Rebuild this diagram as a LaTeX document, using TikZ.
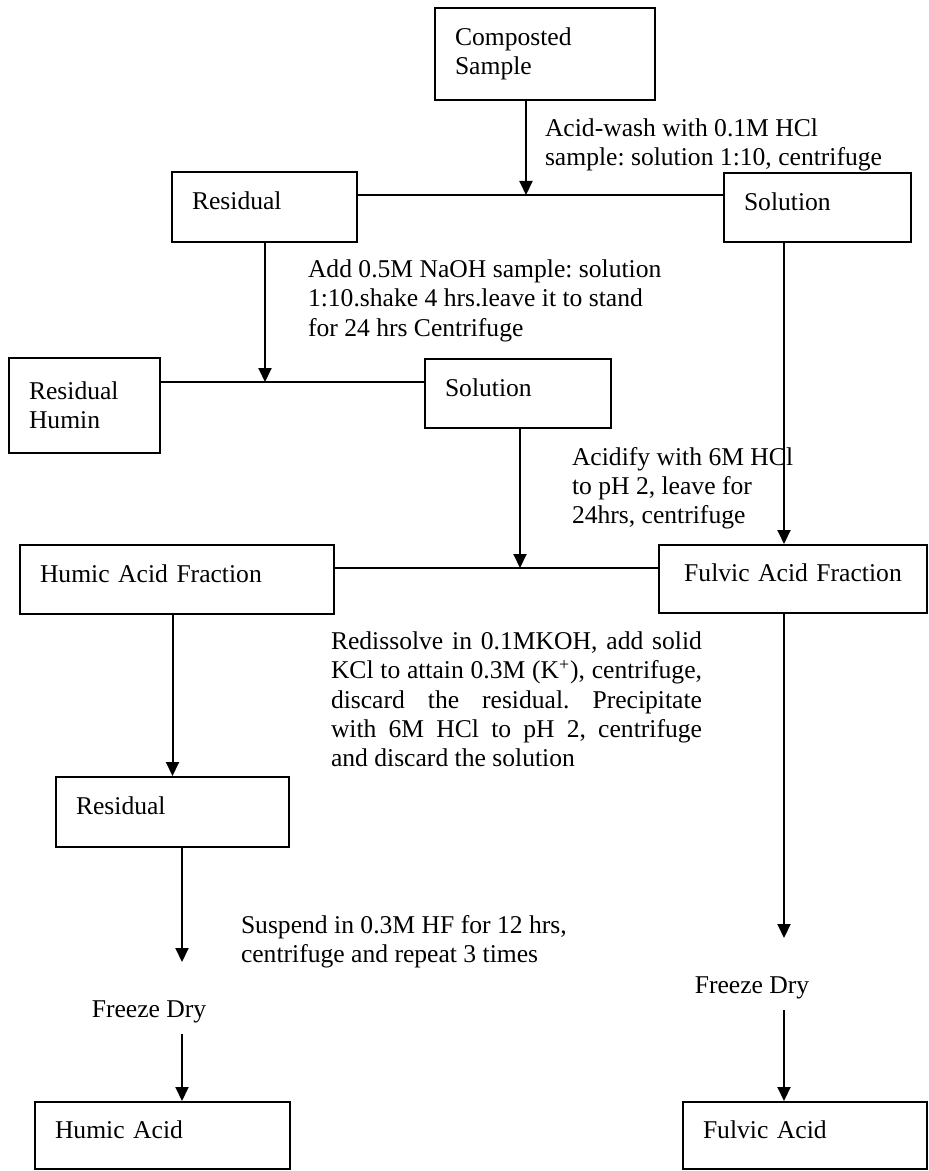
\documentclass[tikz,border=0pt]{standalone}
\usepackage{fontspec}
\setmainfont{Liberation Serif}
\usetikzlibrary{arrows.meta}
\frenchspacing

\begin{document}
\begin{tikzpicture}[x=0.5pt,y=-0.5pt,
		font=\fontsize{12.8}{14.6}\selectfont,
		line width=1pt,
		>={Triangle[length=7pt,width=6.5pt]},
		box/.style 2 args={draw,rectangle,inner xsep=10pt,text width=#1,minimum height=#2,align=left,text depth=6pt},
		note/.style={anchor=north west,inner sep=0pt,align=left},
		dry/.style={inner sep=5pt}]
	\useasboundingbox (0,0) rectangle (928,1171);
	\node [box={90pt}{46pt},text depth=] (sample) at (545,54) {Composted\\Sample};
	\node [box={72.5pt}{35pt}] (res1) at (264.5,207) {Residual};
	\node [box={73.5pt}{34.5pt}] (sol1) at (817.5,207.5) {Solution};
	\node [box={55.5pt}{47.5pt},text depth=] (humin) at (84.5,405.5) {Residual\\Humin};
	\node [box={73pt}{34.5pt}] (sol2) at (518,393.5) {Solution};
	\node [box={137pt}{34.5pt}] (haf) at (177,579.5) {Humic Acid Fraction};
	\node [box={114pt}{34pt},align=center] (faf) at (793,579) {Fulvic Acid Fraction};
	\node [box={96.5pt}{35pt}] (res2) at (172.5,812) {Residual};
	\node [box={107.5pt}{33.5pt}] (ha) at (162.5,1135.5) {Humic Acid};
	\node [box={102pt}{33.5pt}] (fa) at (805,1135.5) {Fulvic Acid};

	\node [note] (wash) at (544,118) {Acid-wash with 0.1M HCl\\sample: solution 1:10, centrifuge};
	\node [note] (naoh) at (307,259) {Add 0.5M NaOH sample: solution\\1:10.shake 4 hrs.leave it to stand\\for 24 hrs Centrifuge};
	\node [note] (acidify) at (571,446) {Acidify with 6M HCl\\to pH 2, leave for\\24hrs, centrifuge};
	\node [note] (redis) at (330,631) {\makebox[185.5pt][s]{Redissolve in 0.1MKOH, add solid}\\
		\makebox[185.5pt][s]{KCl to attain 0.3M (K\textsuperscript{+}), centrifuge,}\\
		\makebox[185.5pt][s]{discard the residual. Precipitate}\\
		\makebox[185.5pt][s]{with 6M HCl to pH 2, centrifuge}\\
		and discard the solution};
	\node [note] (hf) at (240,914) {Suspend in 0.3M HF for 12 hrs,\\centrifuge and repeat 3 times};
	\node [dry] (dryl) at (149,1012) {Freeze Dry};
	\node [dry] (dryr) at (752,988) {Freeze Dry};

	\coordinate (j1) at (526,195);
	\coordinate (j2) at (265,382);
	\coordinate (j3) at (520,568);
	\coordinate (endl) at (182,962);
	\coordinate (endr) at (784,938);

	\draw[->] (sample.south -| j1) -- (j1);
	\draw (res1.east |- j1) -- (sol1.west |- j1);
	\draw[->] (res1.south -| j2) -- (j2);
	\draw (humin.east |- j2) -- (sol2.west |- j2);
	\draw[->] (sol2.south -| j3) -- (j3);
	\draw (haf.east |- j3) -- (faf.west |- j3);
	\draw[->] (sol1.south -| endr) -- (faf.north -| endr);
	\draw[->] (haf.south -| res2.north) -- (res2.north);
	\draw[->] (res2.south -| endl) -- (endl);
	\draw[->] (faf.south -| endr) -- (endr);
	\draw[->] (dryl.south -| endl) -- (ha.north -| endl);
	\draw[->] (dryr.south -| endr) -- (fa.north -| endr);
\end{tikzpicture}
\end{document}
